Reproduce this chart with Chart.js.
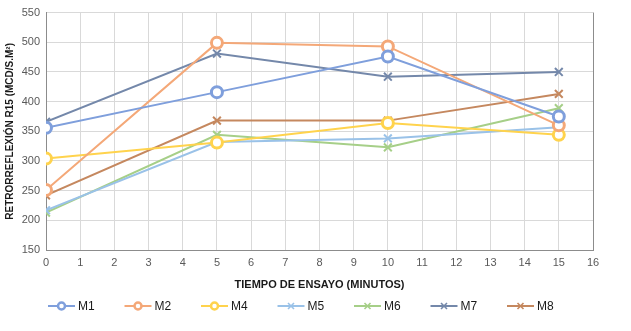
<!DOCTYPE html>
<html>
<head>
<meta charset="utf-8">
<script src="https://cdn.jsdelivr.net/npm/chart.js@4.4.1/dist/chart.umd.min.js"></script>
<style>
  html, body { margin: 0; padding: 0; background: #fff; }
  #wrap { width: 631px; height: 331px; }
</style>
</head>
<body>
<div id="wrap"><canvas id="chart" width="631" height="331"></canvas></div>
<script>
// tiempo de ensayo (minutos)
const tiempos = [0, 5, 10, 15];

// retrorreflexion R15 por muestra
const M1 = [356, 416, 476, 375];
const M2 = [251, 499, 493, 360];
const M4 = [304, 331, 364, 344];
const M5 = [217, 332, 338, 357];
const M6 = [213, 344, 323, 389];
const M7 = [366, 481, 442, 450];
const M8 = [242, 368, 368, 413];

const nombres = ['M1', 'M2', 'M4', 'M5', 'M6', 'M7', 'M8'];
const valores = [M1, M2, M4, M5, M6, M7, M8];
const colores = ['#7f9fdc', '#f4a878', '#ffd34d', '#9ac2e8', '#a6cf88', '#7488aa', '#c5885f'];
const marcas = ['circle', 'circle', 'circle', 'crossRot', 'crossRot', 'crossRot', 'crossRot'];

const datasets = nombres.map((n, i) => ({
  label: n,
  data: tiempos.map((t, k) => ({ x: t, y: valores[i][k] })),
  borderColor: colores[i],
  backgroundColor: '#ffffff',
  borderWidth: 2,
  pointStyle: marcas[i],
  pointRadius: 5.5,
  pointBorderWidth: marcas[i] === 'circle' ? 3 : 2,
  pointBorderColor: colores[i],
  pointBackgroundColor: '#ffffff',
  tension: 0
}));

// legend drawn by hand: line with marker, then the name
const legendaLinea = {
  id: 'legendaLinea',
  afterDraw(ch) {
    const g = ch.ctx;
    const y = 306;
    g.save();
    g.font = '12px "Liberation Sans"';
    g.textBaseline = 'middle';
    nombres.forEach((n, i) => {
      const x0 = 48 + i * 76.5;
      g.strokeStyle = colores[i];
      g.lineWidth = 2;
      g.beginPath(); g.moveTo(x0, y); g.lineTo(x0 + 27, y); g.stroke();
      const cx = x0 + 13.5;
      if (marcas[i] === 'circle') {
        g.beginPath(); g.arc(cx, y, 3.5, 0, 2 * Math.PI);
        g.fillStyle = '#fff'; g.fill();
        g.lineWidth = 2.5; g.stroke();
      } else {
        g.lineWidth = 1.6;
        g.beginPath();
        g.moveTo(cx - 3, y - 3); g.lineTo(cx + 3, y + 3);
        g.moveTo(cx + 3, y - 3); g.lineTo(cx - 3, y + 3);
        g.stroke();
      }
      g.fillStyle = '#1a1a1a';
      g.fillText(n, x0 + 30, y + 0.5);
    });
    g.restore();
  }
};

const plotBorder = {
  id: 'plotBorder',
  afterDraw(ch) {
    const a = ch.chartArea;
    const g = ch.ctx;
    g.save();
    g.strokeStyle = '#8c8c8c';
    g.lineWidth = 1;
    g.beginPath();
    g.moveTo(Math.round(a.right) + 0.5, a.top);
    g.lineTo(Math.round(a.right) + 0.5, a.bottom);
    g.stroke();
    g.restore();
  }
};

const ctx = document.getElementById('chart').getContext('2d');
const chart = new Chart(ctx, {
  type: 'line',
  data: { datasets: datasets },
  options: {
    responsive: false,
    animation: false,
    layout: { padding: { left: 0, right: 38, top: 12, bottom: 39 } },
    scales: {
      x: {
        type: 'linear',
        min: 0, max: 16,
        ticks: { stepSize: 1, color: '#595959', font: { family: 'Liberation Sans', size: 11 }, padding: 6 },
        grid: { color: '#d9d9d9', lineWidth: 1, drawTicks: false },
        border: { color: '#8c8c8c', width: 1 },
        title: {
          display: true,
          text: 'TIEMPO DE ENSAYO (MINUTOS)',
          color: '#1a1a1a',
          font: { family: 'Liberation Sans', size: 11, weight: 'bold' },
          padding: { top: 0, bottom: 0 }
        },
        afterFit(scale) { scale.height = 42; }
      },
      y: {
        min: 150, max: 550,
        ticks: { stepSize: 50, color: '#595959', font: { family: 'Liberation Sans', size: 11 }, padding: 6 },
        grid: { color: '#d9d9d9', lineWidth: 1, drawTicks: false },
        border: { color: '#8c8c8c', width: 1 },
        title: {
          display: true,
          text: 'RETRORREFLEXIÓN R15 (MCD/S.M²)',
          color: '#1a1a1a',
          font: { family: 'Liberation Sans', size: 10, weight: 'bold' },
          padding: { top: 4, bottom: 0 }
        },
        afterFit(scale) { scale.width = 46; }
      }
    },
    plugins: {
      legend: { display: false },
      tooltip: { enabled: false }
    }
  },
  plugins: [plotBorder, legendaLinea]
});
</script>
</body>
</html>
